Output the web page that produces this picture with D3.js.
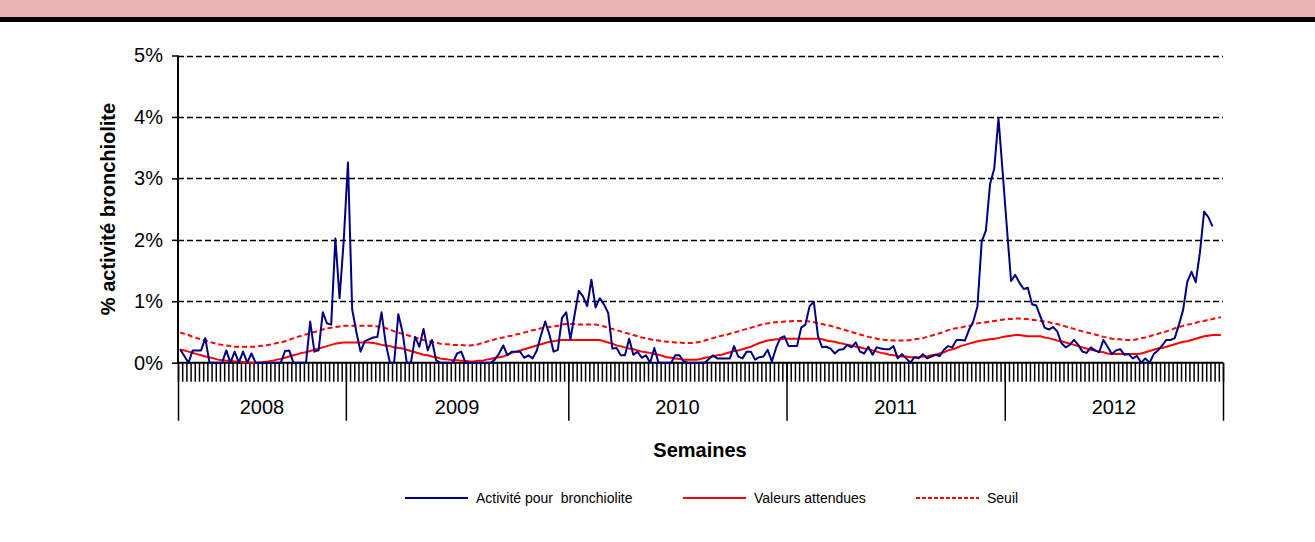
<!DOCTYPE html>
<html><head><meta charset="utf-8">
<script src="https://cdn.jsdelivr.net/npm/d3@7"></script>
<style>
html,body{margin:0;padding:0;background:#fff;}
svg{display:block;font-family:"Liberation Sans",Arial,sans-serif;}
</style></head>
<body>
<svg id="chart" width="1315" height="542"></svg>
<script>
// ---- data ----
const yearLabels = ["2008","2009","2010","2011","2012"];
const weeksPerYear = [40,53,52,52,52];
const yTicks = [0,1,2,3,4,5];
const seriesNames = ["Activité pour  bronchiolite","Valeurs attendues","Seuil"];

const activite = [
0.22,0.11,0,0.2,0.2,0.2,0.4,0,0,0,0,0.2,0,0.18,0,0.18,0,0.15,0,0,
0,0,0,0,0,0.19,0.2,0,0,0,0,0.67,0.18,0.2,0.82,0.64,0.62,2.02,1.05,2.0,
3.26,0.87,0.5,0.18,0.35,0.38,0.41,0.42,0.82,0.31,0,0,0.79,0.5,0,0,0.42,0.26,0.55,0.2,
0.37,0.04,0,0,0,0,0.15,0.18,0,0,0,0,0,0,0,0.05,0.15,0.28,0.12,0.18,
0.18,0.18,0.08,0.12,0.07,0.2,0.45,0.67,0.46,0.18,0.21,0.73,0.82,0.38,0.78,1.17,1.08,0.92,1.35,0.9,
1.05,0.95,0.81,0.23,0.24,0.12,0.12,0.39,0.13,0.18,0.08,0.12,0,0.24,0,0,0,0,0.12,0.12,
0.02,0,0,0,0,0,0.06,0.12,0.07,0.07,0.07,0.07,0.27,0.1,0.07,0.18,0.18,0.05,0.09,0.1,
0.21,0.02,0.24,0.4,0.43,0.27,0.27,0.27,0.57,0.62,0.92,0.99,0.43,0.25,0.26,0.23,0.15,0.21,0.22,0.29,
0.25,0.33,0.18,0.15,0.26,0.13,0.25,0.23,0.22,0.22,0.27,0.07,0.14,0.07,0,0.09,0.07,0.14,0.07,0.1,
0.13,0.11,0.21,0.27,0.25,0.37,0.37,0.36,0.54,0.67,0.92,1.97,2.15,2.91,3.16,3.98,3.1,2.2,1.33,1.43,
1.3,1.2,1.22,0.95,0.93,0.75,0.57,0.54,0.58,0.51,0.32,0.25,0.29,0.37,0.29,0.18,0.16,0.25,0.2,0.17,
0.37,0.26,0.14,0.2,0.22,0.13,0.14,0.07,0.11,0,0.07,0,0.14,0.2,0.28,0.37,0.37,0.4,0.62,0.86,
1.32,1.48,1.31,1.79,2.46,2.37,2.22
];

const attendues = [
0.21,0.20,0.18,0.16,0.14,0.12,0.10,0.09,0.07,0.05,0.04,0.03,0.03,0.02,0.02,0.01,0.01,0.00,0.00,0.00,
0.01,0.02,0.03,0.05,0.06,0.08,0.10,0.12,0.14,0.16,0.17,0.19,0.21,0.23,0.25,0.27,0.29,0.31,0.32,0.33,
0.33,0.33,0.33,0.33,0.33,0.33,0.32,0.31,0.29,0.28,0.27,0.25,0.24,0.23,0.21,0.19,0.17,0.15,0.13,0.12,
0.10,0.09,0.07,0.06,0.05,0.04,0.04,0.03,0.03,0.02,0.02,0.03,0.03,0.05,0.06,0.08,0.09,0.10,0.13,0.16,
0.18,0.20,0.22,0.24,0.26,0.28,0.30,0.32,0.34,0.35,0.36,0.37,0.37,0.37,0.37,0.37,0.37,0.37,0.37,0.37,
0.37,0.35,0.33,0.31,0.28,0.27,0.25,0.23,0.22,0.20,0.18,0.17,0.16,0.14,0.13,0.11,0.09,0.08,0.07,0.06,
0.05,0.05,0.05,0.05,0.06,0.08,0.09,0.10,0.12,0.13,0.15,0.17,0.19,0.20,0.22,0.24,0.26,0.29,0.32,0.34,
0.36,0.37,0.38,0.38,0.39,0.39,0.39,0.39,0.39,0.39,0.39,0.39,0.39,0.38,0.36,0.35,0.34,0.32,0.31,0.29,
0.28,0.26,0.25,0.23,0.22,0.20,0.18,0.16,0.15,0.13,0.12,0.11,0.10,0.10,0.09,0.09,0.09,0.10,0.10,0.12,
0.13,0.15,0.17,0.20,0.22,0.24,0.27,0.29,0.31,0.33,0.35,0.36,0.37,0.38,0.39,0.40,0.42,0.43,0.44,0.45,
0.45,0.44,0.43,0.43,0.43,0.43,0.41,0.40,0.38,0.36,0.35,0.33,0.31,0.29,0.27,0.25,0.23,0.21,0.20,0.18,
0.17,0.15,0.14,0.14,0.14,0.14,0.14,0.14,0.14,0.15,0.17,0.19,0.21,0.23,0.24,0.26,0.28,0.30,0.32,0.34,
0.35,0.37,0.39,0.41,0.43,0.44,0.45,0.45,0.45
];

const seuil = [
0.49,0.47,0.45,0.42,0.40,0.38,0.36,0.34,0.32,0.30,0.29,0.28,0.27,0.26,0.26,0.26,0.26,0.26,0.26,0.27,
0.28,0.29,0.30,0.32,0.33,0.35,0.37,0.40,0.42,0.44,0.46,0.48,0.50,0.52,0.54,0.56,0.57,0.58,0.59,0.60,
0.60,0.60,0.60,0.60,0.60,0.60,0.60,0.59,0.58,0.56,0.54,0.51,0.49,0.47,0.45,0.43,0.41,0.39,0.37,0.35,
0.34,0.33,0.31,0.30,0.30,0.29,0.29,0.29,0.28,0.28,0.29,0.30,0.32,0.34,0.36,0.38,0.40,0.41,0.43,0.44,
0.46,0.47,0.49,0.51,0.53,0.54,0.56,0.57,0.58,0.59,0.60,0.62,0.63,0.63,0.63,0.62,0.62,0.62,0.62,0.62,
0.61,0.59,0.57,0.55,0.53,0.51,0.49,0.47,0.45,0.43,0.41,0.40,0.38,0.37,0.36,0.35,0.34,0.34,0.33,0.33,
0.32,0.32,0.32,0.33,0.34,0.36,0.38,0.40,0.42,0.44,0.45,0.47,0.49,0.51,0.53,0.55,0.57,0.59,0.61,0.63,
0.64,0.65,0.66,0.66,0.67,0.67,0.68,0.68,0.68,0.68,0.67,0.66,0.64,0.63,0.61,0.60,0.58,0.56,0.54,0.52,
0.50,0.48,0.46,0.44,0.42,0.41,0.39,0.38,0.37,0.37,0.36,0.36,0.36,0.36,0.37,0.38,0.39,0.40,0.42,0.44,
0.46,0.48,0.50,0.53,0.55,0.56,0.57,0.59,0.60,0.62,0.64,0.65,0.66,0.67,0.68,0.69,0.70,0.71,0.71,0.72,
0.72,0.71,0.71,0.70,0.69,0.68,0.67,0.66,0.64,0.63,0.61,0.59,0.57,0.55,0.53,0.51,0.49,0.48,0.46,0.44,
0.42,0.41,0.39,0.38,0.38,0.37,0.37,0.37,0.38,0.40,0.41,0.43,0.45,0.47,0.49,0.51,0.53,0.56,0.58,0.60,
0.62,0.63,0.65,0.67,0.68,0.70,0.71,0.73,0.74
];

// ---- layout ----
const svg = d3.select("#chart");
const plotL = 178, plotR = 1223, plotT = 55.5, plotB = 362.7;
const nWeeks = d3.sum(weeksPerYear);

const x = d3.scaleLinear().domain([0, nWeeks]).range([plotL, plotR]);
const y = d3.scaleLinear().domain([0, 5]).range([plotB, plotT]);

// top border band
svg.append("rect").attr("x",0).attr("y",0).attr("width",1315).attr("height",17).attr("fill","#e8b4b4");
svg.append("rect").attr("x",0).attr("y",17).attr("width",1315).attr("height",5).attr("fill","#000");

// gridlines
svg.append("g").selectAll("line").data(yTicks.filter(d=>d>0)).join("line")
  .attr("x1",plotL).attr("x2",plotR)
  .attr("y1",d=>Math.round(y(d))+0.5).attr("y2",d=>Math.round(y(d))+0.5)
  .attr("stroke","#000").attr("stroke-width",1.5).attr("stroke-dasharray","6,3");

// y axis
const yAxis = d3.axisLeft(y).tickValues(yTicks).tickSize(6).tickFormat(d=>d+"%");
const gy = svg.append("g").attr("transform",`translate(${plotL},0)`).call(yAxis);
gy.select(".domain").attr("stroke","#000").attr("stroke-width",2).attr("d",`M0,${plotT}V${plotB}`);
gy.selectAll(".tick line").attr("stroke","#000").attr("stroke-width",1.5);
gy.selectAll(".tick text").attr("font-size",20).attr("fill","#000").attr("x",-15)
  .attr("font-family","'Liberation Sans',Arial,sans-serif");

// x weekly ticks
const weekBounds = d3.range(0, nWeeks+1);
const xAxis = d3.axisBottom(x).tickValues(weekBounds).tickSize(19).tickFormat("");
const gx = svg.append("g").attr("transform",`translate(0,${plotB})`).call(xAxis);
gx.select(".domain").remove();
gx.selectAll(".tick line").attr("stroke","#000").attr("stroke-width",1.5);

// year separators
const yearBounds = [0];
weeksPerYear.forEach((w,i)=>yearBounds.push(yearBounds[i]+w));
const xYear = d3.axisBottom(x).tickValues(yearBounds).tickSize(58).tickFormat("");
const gyr = svg.append("g").attr("transform",`translate(0,${plotB})`).call(xYear);
gyr.select(".domain").remove();
gyr.selectAll(".tick line").attr("stroke","#000").attr("stroke-width",1.5);

// x axis line
svg.append("line").attr("x1",plotL-1).attr("x2",plotR).attr("y1",plotB).attr("y2",plotB)
  .attr("stroke","#000").attr("stroke-width",2);

// year labels
svg.append("g").selectAll("text").data(yearLabels).join("text")
  .attr("x",(d,i)=>x((yearBounds[i]+yearBounds[i+1])/2))
  .attr("y",414)
  .attr("text-anchor","middle").attr("font-size",20).attr("fill","#000")
  .text(d=>d);

// lines
const line = d3.line().x((d,i)=>x(i+0.5)).y(d=>y(d));
svg.append("path").datum(seuil).attr("d",line).attr("fill","none")
  .attr("stroke","#ff0000").attr("stroke-width",2).attr("stroke-dasharray","5,3");
svg.append("path").datum(attendues).attr("d",line).attr("fill","none")
  .attr("stroke","#ff0000").attr("stroke-width",2);
svg.append("path").datum(activite).attr("d",line).attr("fill","none")
  .attr("stroke","#000080").attr("stroke-width",2).attr("stroke-linejoin","round");

// axis titles
svg.append("text").attr("x",700).attr("y",457).attr("text-anchor","middle")
  .attr("font-size",20).attr("font-weight","bold").attr("fill","#000").text("Semaines");
svg.append("text").attr("transform","translate(115,209) rotate(-90)").attr("text-anchor","middle")
  .attr("font-size",20).attr("font-weight","bold").attr("fill","#000").text("% activité bronchiolite");

// legend
const legendItems = [
  {name: seriesNames[0], color:"#000080", dash:null, x:405},
  {name: seriesNames[1], color:"#ff0000", dash:null, x:683},
  {name: seriesNames[2], color:"#ff0000", dash:"4,2", x:916}
];
const lg = svg.append("g").selectAll("g").data(legendItems).join("g")
  .attr("transform",d=>`translate(${d.x},498)`);
lg.append("line").attr("x1",0).attr("x2",63).attr("y1",0).attr("y2",0)
  .attr("stroke",d=>d.color).attr("stroke-width",2).attr("stroke-dasharray",d=>d.dash);
lg.append("text").attr("x",71).attr("y",5).attr("font-size",14).attr("fill","#000")
  .style("white-space","pre").text(d=>d.name);
</script>
</body></html>
